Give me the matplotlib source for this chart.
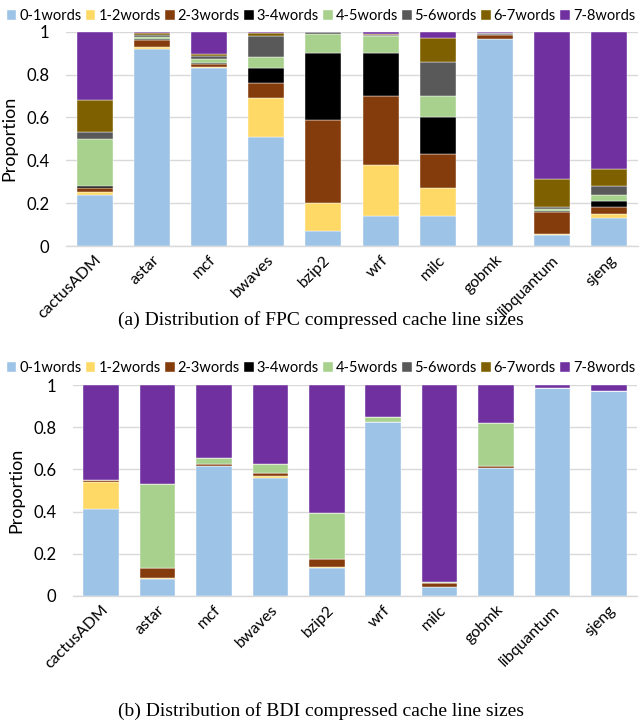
import matplotlib
matplotlib.use("Agg")
import matplotlib.pyplot as plt
import numpy as np

benchmarks = ["cactusADM", "astar", "mcf", "bwaves", "bzip2", "wrf", "milc",
              "gobmk", "libquantum", "sjeng"]
size_bins = ["0-1words", "1-2words", "2-3words", "3-4words", "4-5words",
             "5-6words", "6-7words", "7-8words"]
bin_colors = ["#9DC3E6", "#FFD966", "#843C0C", "#000000", "#A9D18E",
              "#595959", "#7F6000", "#7030A0"]

# FPC: fraction of cache lines per compressed size bin (rows follow benchmarks)
fpc_0_1 = [0.24, 0.92, 0.83, 0.51, 0.07, 0.14, 0.14, 0.965, 0.05, 0.13]
fpc_1_2 = [0.01, 0.01, 0.005, 0.18, 0.13, 0.24, 0.13, 0.003, 0.005, 0.02]
fpc_2_3 = [0.02, 0.03, 0.015, 0.07, 0.39, 0.32, 0.16, 0.017, 0.105, 0.03]
fpc_3_4 = [0.01, 0.005, 0.005, 0.07, 0.31, 0.20, 0.17, 0.002, 0.002, 0.03]
fpc_4_5 = [0.22, 0.01, 0.017, 0.05, 0.09, 0.08, 0.10, 0.003, 0.01, 0.03]
fpc_5_6 = [0.03, 0.01, 0.013, 0.10, 0.01, 0.003, 0.16, 0.002, 0.01, 0.04]
fpc_6_7 = [0.15, 0.01, 0.01, 0.013, 0.0, 0.007, 0.11, 0.003, 0.13, 0.08]
fpc_7_8 = [0.32, 0.005, 0.105, 0.007, 0.0, 0.01, 0.03, 0.005, 0.688, 0.64]

# BDI: fraction of cache lines per compressed size bin
bdi_0_1 = [0.41, 0.08, 0.618, 0.561, 0.131, 0.826, 0.041, 0.608, 0.987, 0.97]
bdi_1_2 = [0.13, 0.003, 0.0, 0.009, 0.006, 0.0, 0.0, 0.0, 0.0, 0.0]
bdi_2_3 = [0.008, 0.05, 0.008, 0.011, 0.04, 0.0, 0.019, 0.008, 0.0, 0.0]
bdi_3_4 = [0.0, 0.0, 0.0, 0.0, 0.0, 0.0, 0.0, 0.0, 0.0, 0.0]
bdi_4_5 = [0.0, 0.398, 0.029, 0.046, 0.218, 0.024, 0.008, 0.202, 0.0, 0.0]
bdi_5_6 = [0.0, 0.0, 0.0, 0.0, 0.0, 0.0, 0.0, 0.0, 0.0, 0.0]
bdi_6_7 = [0.002, 0.0, 0.0, 0.0, 0.0, 0.0, 0.0, 0.0, 0.0, 0.0]
bdi_7_8 = [0.45, 0.469, 0.345, 0.373, 0.605, 0.15, 0.932, 0.182, 0.013, 0.03]

fpc = [fpc_0_1, fpc_1_2, fpc_2_3, fpc_3_4, fpc_4_5, fpc_5_6, fpc_6_7, fpc_7_8]
bdi = [bdi_0_1, bdi_1_2, bdi_2_3, bdi_3_4, bdi_4_5, bdi_5_6, bdi_6_7, bdi_7_8]

sans = ["Lato", "DejaVu Sans"]
serif = ["Liberation Serif", "DejaVu Serif"]

W, H = 642, 722
fig = plt.figure(figsize=(W / 100, H / 100), dpi=100)


def px_axes(left, top, right, bottom):
    return fig.add_axes([left / W, 1 - bottom / H, (right - left) / W, (bottom - top) / H])


def draw_panel(ax, series):
    x = np.arange(len(benchmarks))
    base = np.zeros(len(benchmarks))
    handles = []
    for vals, color, name in zip(series, bin_colors, size_bins):
        vals = np.asarray(vals)
        h = ax.bar(x, vals, bottom=base, width=0.63, color=color, label=name,
                   edgecolor="white", linewidth=0.3, zorder=3)
        handles.append(h)
        base = base + vals
    ax.set_xlim(-0.5, len(benchmarks) - 0.5)
    ax.set_ylim(0, 1)
    ax.set_yticks([0, 0.2, 0.4, 0.6, 0.8, 1.0])
    ax.set_yticklabels(["0", "0.2", "0.4", "0.6", "0.8", "1"], fontfamily=sans, fontsize=12)
    ax.yaxis.grid(True, color="#D9D9D9", linewidth=1.0, zorder=0)
    ax.set_axisbelow(True)
    for side in ["top", "right", "left"]:
        ax.spines[side].set_visible(False)
    ax.spines["bottom"].set_color("#D9D9D9")
    ax.spines["bottom"].set_linewidth(1.0)
    ax.tick_params(axis="both", length=0, pad=12, colors="black")
    ax.set_xticks(x)
    ax.set_xticklabels(benchmarks, rotation=45, ha="right", rotation_mode="anchor",
                       fontfamily=sans, fontsize=11.5)
    ax.tick_params(axis="x", pad=5)
    ax.set_ylabel("Proportion", fontfamily=sans, fontsize=13, labelpad=6)
    return handles


def draw_legend(handles, y):
    fig.legend(handles=handles, labels=size_bins, loc="center", bbox_to_anchor=(0.5, 1 - y / H),
               ncol=8, frameon=False, prop={"family": sans, "size": 10.5},
               handlelength=0.65, handleheight=0.65, handletextpad=0.2, columnspacing=0.3,
               borderaxespad=0, borderpad=0)


ax_top = px_axes(66, 31.7, 638, 246)
h_top = draw_panel(ax_top, fpc)
draw_legend(h_top, 16)
fig.text(0.5, 1 - 320 / H, "(a) Distribution of FPC compressed cache line sizes",
         ha="center", va="center", fontfamily=serif, fontsize=14)

ax_bot = px_axes(73, 385, 637, 596)
h_bot = draw_panel(ax_bot, bdi)
draw_legend(h_bot, 368)
fig.text(0.5, 1 - 711 / H, "(b) Distribution of BDI compressed cache line sizes",
         ha="center", va="center", fontfamily=serif, fontsize=14)

fig.savefig("out.png", dpi=100)
